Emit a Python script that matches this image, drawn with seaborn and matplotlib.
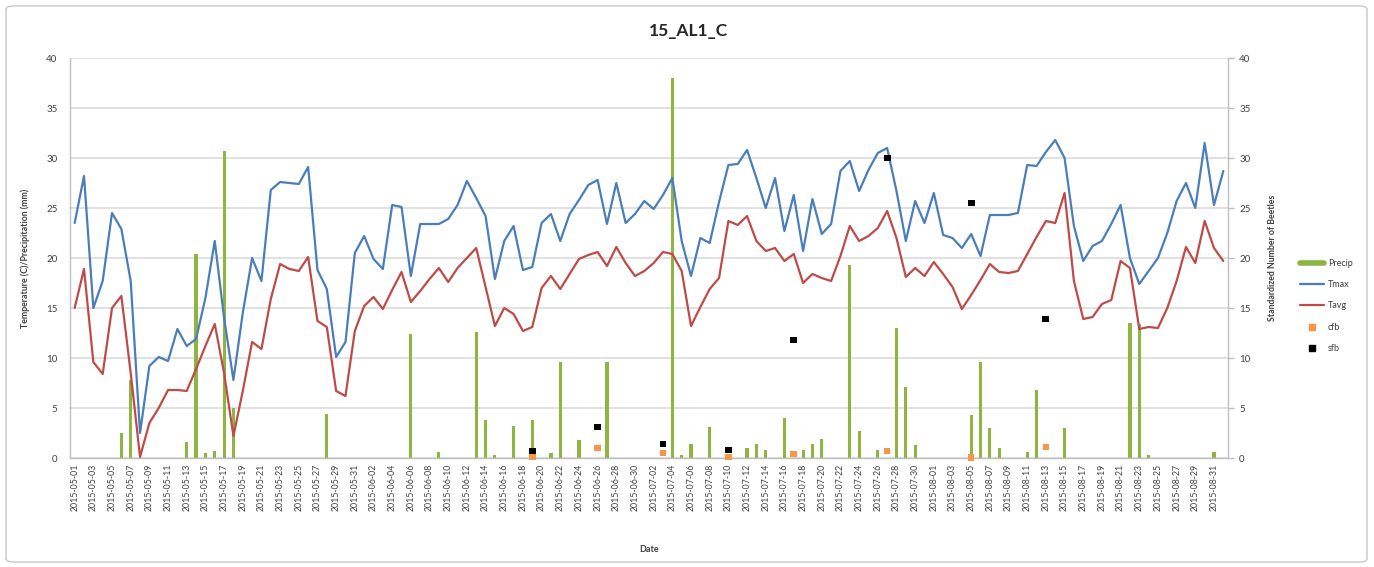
import numpy as np
import pandas as pd
import matplotlib
matplotlib.use("Agg")
import matplotlib.pyplot as plt
from matplotlib.lines import Line2D
from matplotlib.patches import FancyBboxPatch
import seaborn as sns

# ---- daily weather, 2015-05-01 .. 2015-09-01 ----
dates = pd.date_range("2015-05-01", "2015-09-01", freq="D")

tmax_may = [23.5, 28.2, 15.0, 17.7, 24.5, 22.9, 17.7, 2.5, 9.2, 10.1, 9.7, 12.9, 11.2, 11.9, 16.0, 21.7,
            14.0, 7.8, 14.5, 20.0, 17.7, 26.8, 27.6, 27.5, 27.4, 29.1, 18.8, 16.9, 10.1, 11.6, 20.5]
tmax_jun = [22.2, 19.9, 18.9, 25.3, 25.1, 18.2, 23.4, 23.4, 23.4, 23.9, 25.3, 27.7, 26.0, 24.2, 17.9,
            21.7, 23.2, 18.8, 19.1, 23.5, 24.4, 21.7, 24.4, 25.8, 27.3, 27.8, 23.4, 27.5, 23.5, 24.4]
tmax_jul = [25.7, 24.9, 26.3, 28.0, 21.7, 18.2, 22.0, 21.5, 25.6, 29.3, 29.4, 30.8, 28.0, 25.0, 28.0, 22.7,
            26.3, 20.7, 25.9, 22.4, 23.4, 28.7, 29.7, 26.7, 28.8, 30.5, 31.0, 26.7, 21.7, 25.7, 23.5]
tmax_aug = [26.5, 22.3, 22.0, 21.0, 22.4, 20.2, 24.3, 24.3, 24.3, 24.5, 29.3, 29.2, 30.6, 31.8, 30.0, 23.2,
            19.7, 21.2, 21.7, 23.4, 25.3, 20.0, 17.4, 18.7, 20.0, 22.5, 25.7, 27.5, 25.0, 31.5, 25.3]
tmax_sep = [28.7]

tavg_may = [15.0, 18.9, 9.6, 8.4, 15.0, 16.2, 8.5, 0.1, 3.5, 5.0, 6.8, 6.8, 6.7, 8.9, 11.2, 13.4,
            8.5, 2.2, 6.7, 11.6, 10.9, 15.9, 19.4, 18.9, 18.7, 20.1, 13.7, 13.1, 6.7, 6.2, 12.7]
tavg_jun = [15.2, 16.1, 14.9, 16.8, 18.6, 15.6, 16.7, 17.9, 19.0, 17.6, 19.0, 20.0, 21.0, 17.1, 13.2,
            15.0, 14.4, 12.7, 13.1, 17.0, 18.2, 16.9, 18.4, 19.9, 20.3, 20.6, 19.2, 21.1, 19.5, 18.2]
tavg_jul = [18.7, 19.5, 20.6, 20.4, 18.7, 13.2, 15.1, 16.9, 18.0, 23.7, 23.3, 24.2, 21.7, 20.7, 21.0, 19.7,
            20.4, 17.5, 18.4, 18.0, 17.7, 20.2, 23.2, 21.7, 22.2, 23.0, 24.7, 22.0, 18.1, 19.0, 18.2]
tavg_aug = [19.6, 18.4, 17.1, 14.9, 16.3, 17.8, 19.4, 18.6, 18.5, 18.7, 20.4, 22.1, 23.7, 23.5, 26.5, 17.7,
            13.9, 14.1, 15.4, 15.8, 19.7, 19.0, 12.9, 13.1, 13.0, 15.0, 17.7, 21.1, 19.5, 23.7, 21.0]
tavg_sep = [19.7]

precip_may = [0, 0, 0, 0, 0, 2.5, 7.8, 0, 0, 0, 0, 0, 1.6, 20.4, 0.5, 0.7,
              30.7, 5.0, 0, 0, 0, 0, 0, 0, 0, 0, 0, 4.4, 0, 0, 0]
precip_jun = [0, 0, 0, 0, 0, 12.4, 0, 0, 0.6, 0, 0, 0, 12.6, 3.8, 0.3,
              0, 3.2, 0, 3.8, 0, 0.5, 9.6, 0, 1.8, 0, 0, 9.6, 0, 0, 0]
precip_jul = [0, 0, 0, 38.0, 0.3, 1.4, 0, 3.1, 0, 0, 0, 1.0, 1.4, 0.8, 0, 4.0,
              0, 0.8, 1.4, 1.9, 0, 0, 19.3, 2.7, 0, 0.8, 0, 13.0, 7.1, 1.3, 0]
precip_aug = [0, 0, 0, 0, 4.3, 9.6, 3.0, 1.0, 0, 0, 0.6, 6.8, 0, 0, 3.0, 0,
              0, 0, 0, 0, 0, 13.5, 13.4, 0.3, 0, 0, 0, 0, 0, 0, 0.6]
precip_sep = [0]

tmax = tmax_may + tmax_jun + tmax_jul + tmax_aug + tmax_sep
tavg = tavg_may + tavg_jun + tavg_jul + tavg_aug + tavg_sep
precip = precip_may + precip_jun + precip_jul + precip_aug + precip_sep

# ---- beetle counts (secondary axis) ----
trap_dates = pd.to_datetime(["2015-06-19", "2015-06-26", "2015-07-03", "2015-07-10",
                             "2015-07-17", "2015-07-27", "2015-08-05", "2015-08-13"])
cfb = [0.1, 1.0, 0.5, 0.1, 0.4, 0.7, 0.05, 1.1]
sfb = [0.7, 3.1, 1.4, 0.8, 11.8, 30.0, 25.5, 13.9]

weather = pd.DataFrame({"date": dates, "Tmax": tmax, "Tavg": tavg, "Precip": precip})
beetles = pd.DataFrame({"date": trap_dates, "cfb": cfb, "sfb": sfb})

C_PRECIP = "#8DB540"
C_TMAX = "#4A7EBB"
C_TAVG = "#BE4B48"
C_CFB = "#F79646"
C_SFB = "#000000"
C_TEXT = "#404040"
C_GRID = "#D9D9D9"

sns.set_theme(style="white")
plt.rcParams["font.family"] = ["Lato", "DejaVu Sans"]

W, H = 1374, 567
fig = plt.figure(figsize=(W / 100, H / 100), dpi=100)
fig.patch.set_facecolor("white")
fig.patches.append(FancyBboxPatch((6 / W, 5 / H), 1361 / W, 556 / H,
                                  boxstyle="round,pad=0,rounding_size=0.006",
                                  transform=fig.transFigure, facecolor="none",
                                  edgecolor="#C8C8C8", linewidth=1.0))

left, right, top, bottom = 70, 1228, 58, 458
ax = fig.add_axes([left / W, 1 - bottom / H, (right - left) / W, (bottom - top) / H])

sns.barplot(data=weather, x="date", y="Precip", native_scale=True, width=0.34,
            color=C_PRECIP, saturation=1, ax=ax, zorder=2, linewidth=0)
sns.lineplot(data=weather, x="date", y="Tmax", color=C_TMAX, linewidth=1.6, ax=ax, zorder=3)
sns.lineplot(data=weather, x="date", y="Tavg", color=C_TAVG, linewidth=1.6, ax=ax, zorder=3)

ax.set_xlim(dates[0] - pd.Timedelta(hours=12), dates[-1] + pd.Timedelta(hours=12))
ax.set_ylim(0, 40)
ax.set_yticks(range(0, 45, 5))
ax.grid(axis="y", color=C_GRID, linewidth=1.1, zorder=0)
ax.grid(axis="x", visible=False)
ax.set_axisbelow(True)

tick_dates = dates[:-1:2]
ax.set_xticks(tick_dates)
ax.set_xticklabels([d.strftime("%Y-%m-%d") for d in tick_dates], rotation=90,
                   fontsize=6.3, color=C_TEXT)
ax.tick_params(axis="x", length=0, pad=4)
ax.tick_params(axis="y", length=0, pad=9, labelsize=7, labelcolor=C_TEXT)

for side in ("top", "right"):
    ax.spines[side].set_visible(False)
for side in ("left", "bottom"):
    ax.spines[side].set_color("#BFBFBF")
    ax.spines[side].set_linewidth(1.0)

ax.set_xlabel("Date", fontsize=6.5, fontweight="bold", color=C_TEXT)
ax.xaxis.set_label_coords(0.5, (bottom - 545) / (bottom - top))
ax.set_ylabel("Temperature (C)/Precipitation (mm)", fontsize=6.3, fontweight="bold", color=C_TEXT)
ax.yaxis.set_label_coords((30 - left) / (right - left), 0.5)

# secondary axis for beetle counts
ax2 = ax.twinx()
sns.scatterplot(data=beetles, x="date", y="cfb", marker="s", s=22, color=C_CFB,
                edgecolor="none", ax=ax2, zorder=4, clip_on=False)
sns.scatterplot(data=beetles, x="date", y="sfb", marker="s", s=24, color=C_SFB,
                edgecolor="none", ax=ax2, zorder=5, clip_on=False)
ax2.set_ylim(0, 40)
ax2.set_yticks(range(0, 45, 5))
ax2.tick_params(axis="y", length=4, width=1, color="#BFBFBF", pad=4,
                labelsize=7, labelcolor=C_TEXT)
ax2.grid(False)
for side in ("top", "left", "bottom"):
    ax2.spines[side].set_visible(False)
ax2.spines["right"].set_color("#BFBFBF")
ax2.spines["right"].set_linewidth(1.0)
ax2.set_ylabel("Standardized Number of Beetles", fontsize=6.3, fontweight="bold",
               color=C_TEXT, rotation=90)
ax2.yaxis.set_label_coords((1268 - left) / (right - left), 0.5)

fig.text(688 / W, 1 - 31 / H, "15_AL1_C", ha="center", va="center",
         fontsize=12.5, fontweight="bold", color="#262626")

handles = [
    Line2D([], [], color=C_PRECIP, linewidth=4),
    Line2D([], [], color=C_TMAX, linewidth=1.6),
    Line2D([], [], color=C_TAVG, linewidth=1.6),
    Line2D([], [], linestyle="none", marker="s", markersize=4, color=C_CFB),
    Line2D([], [], linestyle="none", marker="s", markersize=4, color=C_SFB),
]
fig.legend(handles, ["Precip", "Tmax", "Tavg", "cfb", "sfb"], loc="center left",
           bbox_to_anchor=(1292 / W, 1 - 306 / H), frameon=False, fontsize=6.5,
           handlelength=2.6, handletextpad=0.5, labelspacing=1.35, labelcolor=C_TEXT)

fig.savefig("out.png", dpi=100, facecolor="white")
